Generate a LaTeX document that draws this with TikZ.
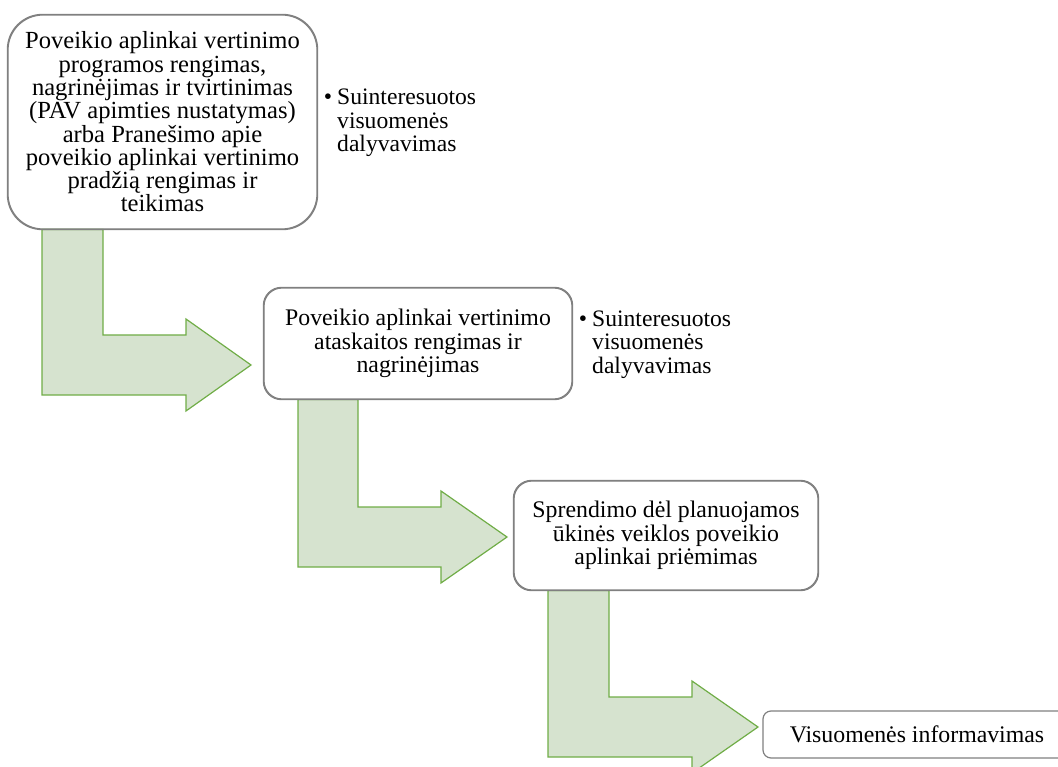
\documentclass[tikz,border=0pt]{standalone}
\usepackage{fontspec}
\setmainfont{Liberation Serif}
\definecolor{boxgray}{RGB}{128,128,128}
\definecolor{arrgreen}{RGB}{112,173,71}
\definecolor{arrfill}{RGB}{214,227,207}
\newcommand\txtfont{\fontsize{23.8}{23.3}\selectfont}
\newcommand\bigtxtfont{\fontsize{24.6}{23.3}\selectfont}
\begin{document}
\begin{tikzpicture}[x=1pt,y=-1pt,
  stepbox/.style={draw=boxgray, line width=1.2pt, fill=white, align=center,
    font=\txtfont, inner sep=0pt},
  bullettext/.style={align=left, font=\fontsize{23.6}{23.3}\selectfont, inner sep=0pt, anchor=west},
  bigarrow/.style={draw=arrgreen, line width=1.2pt, fill=arrfill, line join=miter}]
\useasboundingbox (0,0) rectangle (1058,767);
\clip (0,0) rectangle (1058,767);

% boxes
\node[stepbox, font=\bigtxtfont, minimum width=309pt, minimum height=214pt, rounded corners=35pt] (b1) at (162.5,122)
  {Poveikio aplinkai vertinimo\\programos rengimas,\\nagrinėjimas ir tvirtinimas\\(PAV apimties nustatymas)\\arba Pranešimo apie\\poveikio aplinkai vertinimo\\pradžią rengimas ir\\teikimas};
\node[stepbox, minimum width=308pt, minimum height=111pt, rounded corners=18pt] (b2) at (418,343.5)
  {Poveikio aplinkai vertinimo\\ataskaitos rengimas ir\\nagrinėjimas};
\node[stepbox, minimum width=304pt, minimum height=109pt, rounded corners=18pt] (b3) at (666,535.5)
  {Sprendimo dėl planuojamos\\ūkinės veiklos poveikio\\aplinkai priėmimas};
\node[stepbox, minimum width=308pt, minimum height=47pt, rounded corners=8pt] (b4) at (917,734.5)
  {Visuomenės informavimas};

% bent arrows between the steps
\path[bigarrow] (42,0 |- b1.south) -- (103,0 |- b1.south) -- (103,335) -- (186,335) -- (186,319)
  -- (251,365) -- (186,411) -- (186,395) -- (42,395) -- cycle;
\path[bigarrow] (298,0 |- b2.south) -- (358,0 |- b2.south) -- (358,507) -- (441,507) -- (441,491)
  -- (507,537) -- (441,583) -- (441,567) -- (298,567) -- cycle;
\path[bigarrow] (548,0 |- b3.south) -- (609,0 |- b3.south) -- (609,697) -- (692,697) -- (692,681)
  -- (758,727) -- (692,773) -- (692,757) -- (548,757) -- cycle;

% redraw box outlines on top of arrow stems
\draw[boxgray, line width=1.2pt, rounded corners=35pt] (b1.south west) rectangle (b1.north east);
\draw[boxgray, line width=1.2pt, rounded corners=18pt] (b2.south west) rectangle (b2.north east);
\draw[boxgray, line width=1.2pt, rounded corners=18pt] (b3.south west) rectangle (b3.north east);

% bullet texts
\node[bullettext] (s1) at (337,123) {\llap{•\hspace{5pt}}Suinteresuotos\\visuomenės\\dalyvavimas};
\node[bullettext] (s2) at (592,344.5) {\llap{•\hspace{5pt}}Suinteresuotos\\visuomenės\\dalyvavimas};
\end{tikzpicture}
\end{document}
